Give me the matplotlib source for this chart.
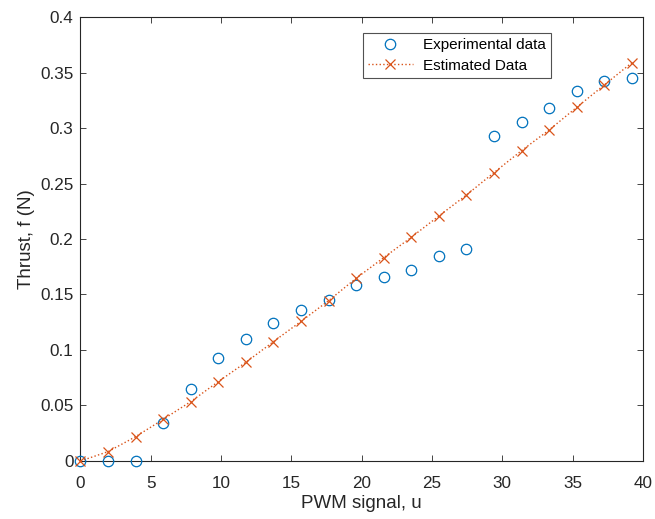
import matplotlib
matplotlib.use("Agg")
import matplotlib.pyplot as plt
import numpy as np

plt.rcParams['font.family'] = ['Liberation Sans', 'DejaVu Sans']

pwm = [0, 1.96, 3.92, 5.88, 7.84, 9.8, 11.76, 13.72, 15.68, 17.64, 19.6,
       21.56, 23.52, 25.48, 27.44, 29.4, 31.36, 33.32, 35.28, 37.24, 39.2]
experimental = [0, 0, 0, 0.034, 0.0646, 0.093, 0.1096, 0.124, 0.136, 0.145, 0.1585,
                0.1655, 0.1725, 0.1847, 0.191, 0.2928, 0.3057, 0.3183, 0.3333, 0.3426, 0.3453]
estimated = [0, 0.0084, 0.0219, 0.0375, 0.0535, 0.0715, 0.0889, 0.1075, 0.1258, 0.1444, 0.1646,
             0.1832, 0.2015, 0.2207, 0.2396, 0.2598, 0.2796, 0.2982, 0.3186, 0.3387, 0.3588]

xticks = [0, 5, 10, 15, 20, 25, 30, 35, 40]
yticks = [0, 0.05, 0.1, 0.15, 0.2, 0.25, 0.3, 0.35, 0.4]
yticklabels = ['0', '0.05', '0.1', '0.15', '0.2', '0.25', '0.3', '0.35', '0.4']

blue = '#0072BD'
orange = '#D95319'
axcol = '#262626'

fig = plt.figure(figsize=(6.55, 5.19), dpi=100)
ax = fig.add_axes([0.1229, 0.1118, 0.8588, 0.8554])

ax.plot(pwm, experimental, linestyle='none', marker='o', markersize=7.5,
        markerfacecolor='none', markeredgecolor=blue, markeredgewidth=0.9,
        label='Experimental data', clip_on=False, zorder=3)
ax.plot(pwm, estimated, linestyle=':', color=orange, linewidth=1.0, marker='x',
        markersize=7.0, markeredgewidth=0.9, label='Estimated Data',
        clip_on=False, zorder=3)

ax.set_xlim(0, 40)
ax.set_ylim(0, 0.4)
ax.set_xticks(xticks)
ax.set_xticklabels([str(t) for t in xticks])
ax.set_yticks(yticks)
ax.set_yticklabels(yticklabels)
ax.tick_params(direction='in', top=True, right=True, length=4, width=0.6,
               colors=axcol, labelsize=12.3, labelcolor=axcol)
ax.tick_params(axis='x', pad=11)
ax.tick_params(axis='y', pad=5)
for s in ax.spines.values():
    s.set_color(axcol)
    s.set_linewidth(0.8)

ax.set_xlabel('PWM signal, u', fontsize=13.5, color=axcol, labelpad=3)
ax.set_ylabel('Thrust, f (N)', fontsize=13.5, color=axcol, labelpad=4)

leg = ax.legend(loc='upper left', bbox_to_anchor=(0.502, 0.965), fontsize=11,
                frameon=True, fancybox=False, edgecolor=axcol, borderpad=0.35,
                handlelength=2.9, handletextpad=0.7, labelspacing=0.45,
                borderaxespad=0)
leg.get_frame().set_linewidth(0.8)

fig.savefig('out.png', dpi=100)
